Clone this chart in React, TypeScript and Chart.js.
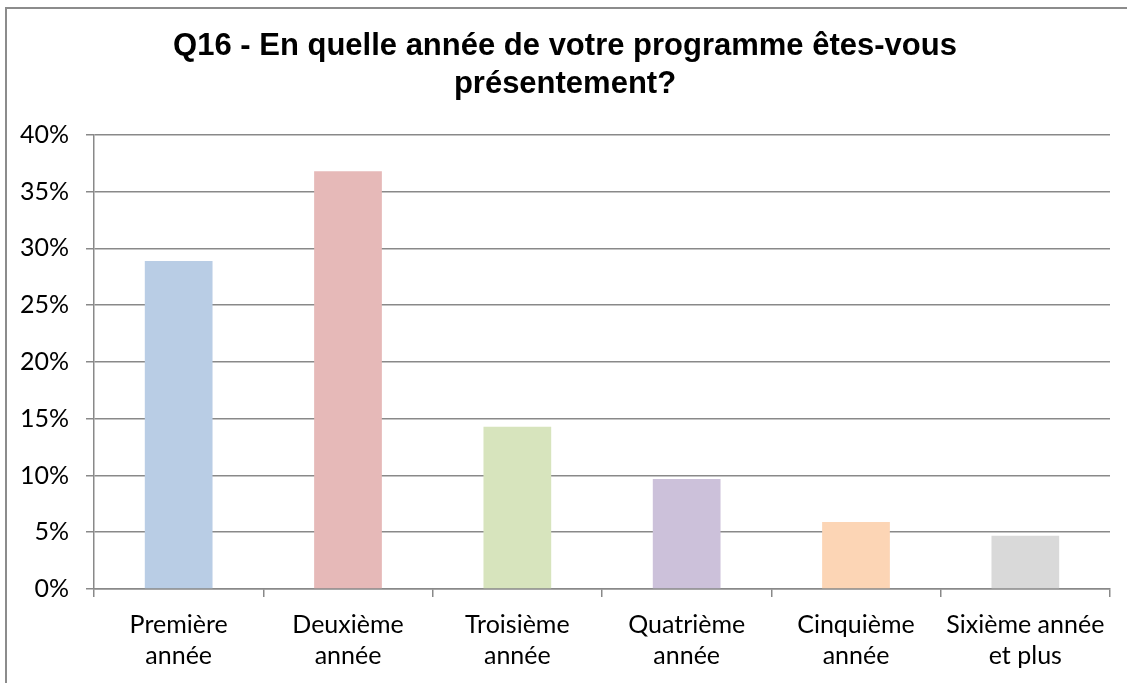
import React, { useEffect, useRef } from "react";
import { Chart, registerables } from "chart.js";

Chart.register(...registerables);

const titleLines = ["Q16 - En quelle année de votre programme êtes-vous", "présentement?"];
const categories = [
  ["Première", "année"],
  ["Deuxième", "année"],
  ["Troisième", "année"],
  ["Quatrième", "année"],
  ["Cinquième", "année"],
  ["Sixième année", "et plus"],
];
const values = [28.9, 36.8, 14.3, 9.7, 5.9, 4.7];
const barColors = ["#B9CDE5", "#E6B9B8", "#D7E4BD", "#CCC1DA", "#FCD5B5", "#D9D9D9"];
const yMin = 0;
const yMax = 40;
const yStep = 5;

const GRID = "#898989";
const AXIS_FONT = "Lato";

export default function App() {
  const canvasRef = useRef<HTMLCanvasElement | null>(null);

  useEffect(() => {
    const canvas = canvasRef.current;
    if (!canvas) return;
    const chart = new Chart(canvas, {
      type: "bar",
      data: {
        labels: categories,
        datasets: [
          {
            data: values,
            backgroundColor: barColors,
            borderWidth: 0,
            barPercentage: 0.4,
            categoryPercentage: 1.0,
          },
        ],
      },
      options: {
        responsive: false,
        animation: false,
        layout: { padding: { left: 20, right: 17, top: 0, bottom: 0 } },
        plugins: {
          legend: { display: false },
          tooltip: { enabled: false },
          title: {
            display: true,
            text: titleLines,
            color: "#000",
            font: { family: "'Liberation Sans', Arial, sans-serif", size: 31, weight: "bold", lineHeight: 1.24 },
            padding: { top: 27, bottom: 31 },
          },
        },
        scales: {
          x: {
            grid: {
              display: true,
              drawOnChartArea: false,
              drawTicks: true,
              tickLength: 8,
              color: GRID,
              lineWidth: 1.5,
            },
            border: { display: true, color: GRID, width: 1.5 },
            ticks: {
              color: "#000",
              padding: 12,
              maxRotation: 0,
              autoSkip: false,
              font: { family: AXIS_FONT, size: 25, lineHeight: 1.24 },
            },
            afterFit: (scale: any) => {
              scale.height = 94;
            },
          },
          y: {
            min: yMin,
            max: yMax,
            grid: {
              display: true,
              drawTicks: true,
              tickLength: 8,
              color: GRID,
              lineWidth: 1.5,
            },
            border: { display: true, color: GRID, width: 1.5 },
            ticks: {
              stepSize: yStep,
              color: "#000",
              padding: 17,
              font: { family: AXIS_FONT, size: 25 },
              callback: (v: any) => `${v}%`,
            },
            afterFit: (scale: any) => {
              scale.width = 74;
            },
          },
        },
      },
    });
    return () => chart.destroy();
  }, []);

  return (
    <div
      style={{
        position: "fixed",
        left: 0,
        top: 0,
        width: 1127,
        height: 683,
        overflow: "hidden",
        background: "#fff",
      }}
    >
      <div
        style={{
          position: "absolute",
          left: 5,
          top: 7,
          width: 1300,
          height: 900,
          border: "2px solid #8c8c8c",
          boxSizing: "border-box",
        }}
      />
      <canvas
        ref={canvasRef}
        width={1127}
        height={683}
        style={{ position: "absolute", left: 0, top: 0, width: 1127, height: 683 }}
      />
    </div>
  );
}
